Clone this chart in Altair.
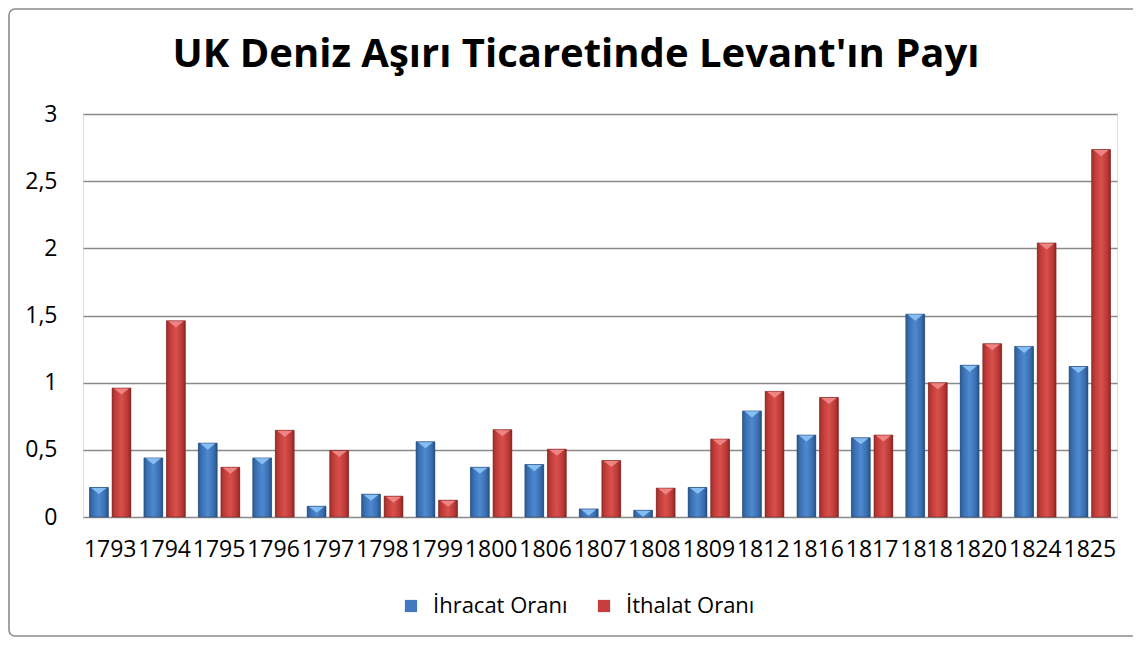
import altair as alt
import pandas as pd

years = ["1793", "1794", "1795", "1796", "1797", "1798", "1799", "1800", "1806", "1807",
         "1808", "1809", "1812", "1816", "1817", "1818", "1820", "1824", "1825"]
ihracat = [0.22, 0.44, 0.55, 0.44, 0.08, 0.17, 0.56, 0.37, 0.39, 0.06,
           0.05, 0.22, 0.79, 0.61, 0.59, 1.51, 1.13, 1.27, 1.12]
ithalat = [0.96, 1.46, 0.37, 0.645, 0.495, 0.155, 0.125, 0.65, 0.505, 0.42,
           0.215, 0.58, 0.935, 0.89, 0.61, 1.0, 1.29, 2.04, 2.735]
series_names = ["İhracat Oranı", "İthalat Oranı"]
series_colors = ["#4079C0", "#C63F3C"]
title_text = "UK Deniz Aşırı Ticaretinde Levant'ın Payı"

rows = []
for i, y in enumerate(years):
    rows.append({"year": y, "series": series_names[0], "value": ihracat[i]})
    rows.append({"year": y, "series": series_names[1], "value": ithalat[i]})
df = pd.DataFrame(rows)

FONT = "Open Sans"

x_enc = alt.X("year:N", sort=years, title=None,
              scale=alt.Scale(paddingInner=0.24, paddingOuter=0.12),
              axis=alt.Axis(labelAngle=0, ticks=False, domain=False, labelPadding=21,
                            labelFontSize=23, labelFont=FONT, labelColor="#000000",
                            labelOverlap=False, grid=False))
xo_enc = alt.XOffset("series:N", sort=series_names,
                     scale=alt.Scale(paddingInner=0.167, paddingOuter=0))
y_enc = alt.Y("value:Q", title=None,
              scale=alt.Scale(domain=[0, 3], nice=False),
              axis=alt.Axis(values=[0, 0.5, 1, 1.5, 2, 2.5, 3], ticks=False, domain=False,
                            labelPadding=26, labelFontSize=23, labelFont=FONT,
                            labelColor="#000000", gridColor="#8A8A8A", gridWidth=1.6,
                            labelExpr="replace(format(datum.value, '~g'), '.', ',')"))

base = alt.Chart(df)

solid = base.mark_bar().encode(
    x=x_enc, xOffset=xo_enc, y=y_enc,
    color=alt.Color("series:N", sort=series_names, title=None,
                    scale=alt.Scale(domain=series_names, range=series_colors),
                    legend=alt.Legend(orient="none", legendX=317, legendY=481,
                                      direction="horizontal", symbolType="square",
                                      symbolSize=150, symbolStrokeWidth=0,
                                      labelFontSize=22, labelFont=FONT, labelColor="#000000",
                                      labelOffset=11, columnPadding=25, padding=0)),
)

def grad(stops):
    return alt.Gradient(gradient="linear", x1=0, x2=1, y1=0, y2=0,
                        stops=[alt.GradientStop(offset=o, color=c) for o, c in stops])

blue_grad = grad([(0, "#2C5A92"), (0.18, "#3B71B4"), (0.5, "#4E89D0"), (0.82, "#3A6FB0"), (1, "#27508A")])
red_grad = grad([(0, "#9E2E2B"), (0.18, "#C13C39"), (0.5, "#D8504C"), (0.82, "#BC3936"), (1, "#8C2725")])

blue_bars = base.mark_bar(fill=blue_grad, stroke="#23466F", strokeWidth=0.8, strokeOpacity=0.7).encode(
    x=x_enc, xOffset=xo_enc, y=y_enc
).transform_filter(alt.datum.series == series_names[0])
red_bars = base.mark_bar(fill=red_grad, stroke="#7A2220", strokeWidth=0.8, strokeOpacity=0.7).encode(
    x=x_enc, xOffset=xo_enc, y=y_enc
).transform_filter(alt.datum.series == series_names[1])

tri = "M-1,-0.4L1,-0.4L0,0.4Z"
blue_tri = base.mark_point(shape=tri, filled=True, size=230, opacity=1, fill="#86BDF2",
                           strokeWidth=0, yOffset=3.5).encode(
    x=x_enc, xOffset=xo_enc, y=y_enc
).transform_filter(alt.datum.series == series_names[0])
red_tri = base.mark_point(shape=tri, filled=True, size=230, opacity=1, fill="#EE8482",
                          strokeWidth=0, yOffset=3.5).encode(
    x=x_enc, xOffset=xo_enc, y=y_enc
).transform_filter(alt.datum.series == series_names[1])

one = pd.DataFrame({"k": [0]})
border = alt.Chart(one).mark_rect(
    fill=None, stroke="#8C8C8C", strokeWidth=1.6, cornerRadius=6
).encode(x=alt.value(-74), x2=alt.value(1200), y=alt.value(-105), y2=alt.value(522))

title = alt.Chart(one).mark_text(
    text=title_text, font=FONT, fontSize=40, fontWeight="bold", color="#000000",
    align="center", baseline="alphabetic"
).encode(x=alt.value(493), y=alt.value(-47))

chart = alt.layer(solid, blue_bars, red_bars, blue_tri, red_tri, border, title).properties(
    width=1034, height=403,
    autosize=alt.AutoSizeParams(type="none"),
    padding={"left": 75, "top": 106, "right": 16, "bottom": 121},
).configure_view(stroke=None).configure(background="#FFFFFF")

chart.save("out.html", embed_options={"renderer": "svg", "actions": False})
